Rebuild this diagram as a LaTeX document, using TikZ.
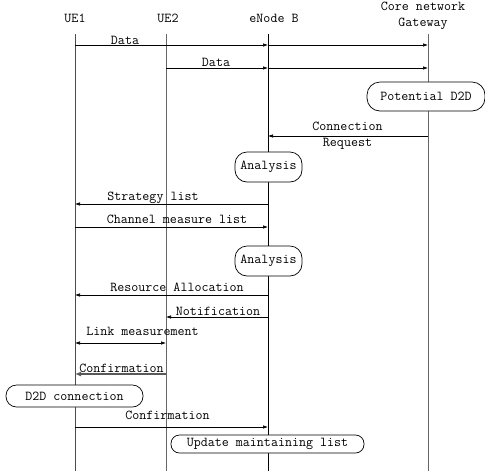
\documentclass[tikz,border=0pt]{standalone}
\usepackage{fontspec}
\usetikzlibrary{arrows.meta}
\begin{document}
\begin{tikzpicture}[x=1pt,y=-1pt,font=\ttfamily\fontsize{13.6}{16}\selectfont,
  life/.style={draw=black!70, line width=0.8pt},
  msg/.style={-{Latex[length=5pt,width=3.5pt]}, line width=0.6pt},
  state/.style={draw, rounded corners=12pt, line width=0.7pt, fill=white, inner sep=0pt},
  lbl/.style={anchor=base, inner sep=0pt}]
\useasboundingbox (0,0) rectangle (485,475);
% heads
\node (ue1) at (75,18) {UE1};
\node (ue2) at (168,18) {UE2};
\node (enb) at (274,18) {eNode B};
\node[align=center] (core) at (423,16) {Core network\\Gateway};
% lifelines
\coordinate (ue1t) at (75,34);  \coordinate (ue1b) at (75,471);
\coordinate (ue2t) at (166,34); \coordinate (ue2b) at (166,471);
\coordinate (enbt) at (268,34); \coordinate (enbb) at (268,471);
\coordinate (coret) at (428,34); \coordinate (coreb) at (428,471);
\draw[life] (ue1t) -- (ue1b);
\draw[life, draw=black!60] (ue2t) -- (ue2b);
\draw[life, draw=black] (enbt) -- (enbb);
\draw[life, draw=black!60] (coret) -- (coreb);
% data
\draw[msg] (ue1t |- 0,45) -- (enbt |- 0,45);
\draw[msg] (enbt |- 0,45) -- (coret |- 0,45);
\node[lbl] (d1) at (125,44) {Data};
\draw[msg] (ue2t |- 0,68) -- (enbt |- 0,68);
\draw[msg] (enbt |- 0,68) -- (coret |- 0,68);
\node[lbl] (d2) at (216,66) {Data};
\node[state, minimum width=118pt, minimum height=29pt, rounded corners=13pt] (pot) at (426,96.5) {Potential D2D};
% connection request
\draw[msg] (coret |- 0,136) -- (enbt |- 0,136);
\node[lbl] (cr1) at (347.5,130) {Connection};
\node[lbl] (cr2) at (347.5,146) {Request};
\node[state, minimum width=67pt, minimum height=30pt] (an1) at (268.5,167) {Analysis};
% lists
\draw[msg] (enbt |- 0,204) -- (ue1t |- 0,204);
\node[lbl] (sl) at (153,200) {Strategy list};
\draw[msg] (ue1t |- 0,227) -- (enbt |- 0,227);
\node[lbl] (cm) at (177,223) {Channel measure list};
\node[state, minimum width=67pt, minimum height=30pt] (an2) at (268.5,261) {Analysis};
% allocation
\draw[msg] (enbt |- 0,295) -- (ue1t |- 0,295);
\node[lbl] (ra) at (177,291) {Resource Allocation};
\draw[msg] (enbt |- 0,317) -- (ue2t |- 0,317);
\node[lbl] (nt) at (218,315) {Notification};
\draw[msg, {Latex[length=5pt,width=3.5pt]}-{Latex[length=5pt,width=3.5pt]}] (ue1t |- 0,343) -- (ue2t |- 0,343);
\node[lbl] (lm) at (142.5,335) {Link measurement};
\draw[msg, draw=black!65, line width=1.3pt, -{Latex[length=6pt,width=5pt]}] (ue2t |- 0,374) -- (ue1t |- 0,374);
\node[lbl] (cf1) at (121.5,372) {Confirmation};
\node[state, minimum width=137pt, minimum height=22pt, rounded corners=10.5pt] (d2d) at (74.5,396) {D2D connection};
\draw[msg] (ue1t |- 0,427) -- (enbt |- 0,427);
\node[lbl] (cf2) at (167.5,419) {Confirmation};
\node[state, minimum width=193pt, minimum height=18pt, rounded corners=8.5pt] (upd) at (267.5,444) {Update maintaining list};
\end{tikzpicture}
\end{document}
